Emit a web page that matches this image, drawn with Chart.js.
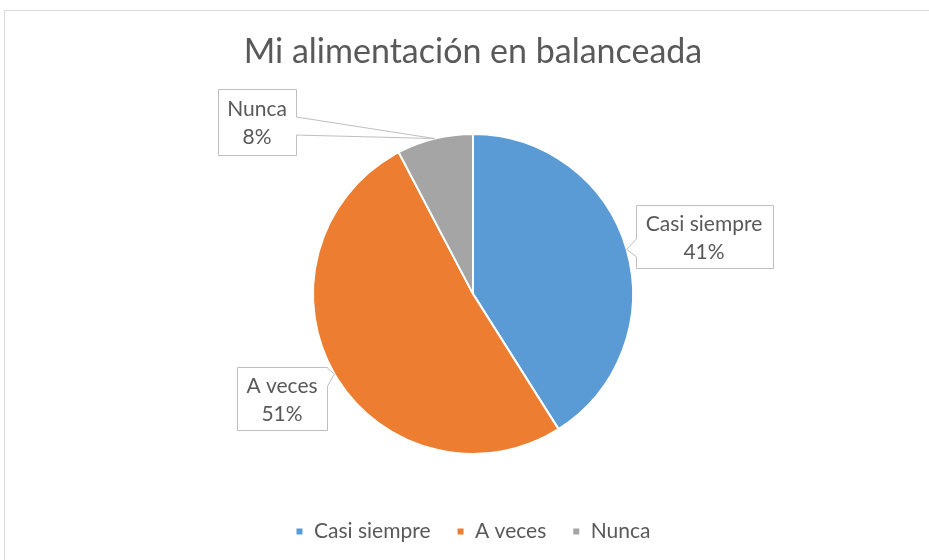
<!DOCTYPE html>
<html lang="es">
  <head>
    <meta charset="UTF-8" />
    <title>Mi alimentación en balanceada</title>
    <script src="https://cdn.jsdelivr.net/npm/chart.js"></script>
    <style>
      body { margin: 0; background: #fff; }
      .canvas { width: 929px; height: 560px; }
    </style>
  </head>
  <body>
    <div class="canvas">
      <canvas id="myChart" width="929" height="560"></canvas>
    </div>
    <script>
      let categories = ["Casi siempre", "A veces", "Nunca"];
      let responses = [16, 20, 3];
      let colors = ["#5B9BD5", "#ED7D31", "#A5A5A5"];
      // where each callout box sits, relative to the pie centre
      let boxOffsets = [
        [231, -57],
        [-191, 105],
        [-216, -172],
      ];
      let boxSizes = [
        [137, 63],
        [90, 63],
        [78, 66],
      ];

      const fontFamily = "Lato, 'Open Sans', sans-serif";

      // light outline around the whole chart
      const frame = {
        id: "frame",
        beforeDraw(chart) {
          const c = chart.ctx;
          c.save();
          c.fillStyle = "#fff";
          c.fillRect(0, 0, chart.width, chart.height);
          c.strokeStyle = "#D9D9D9";
          c.lineWidth = 1;
          c.strokeRect(4.5, 10.5, chart.width + 20, chart.height + 20);
          c.restore();
        },
      };

      function calloutPath(c, x0, y0, w, h, tx, ty) {
        const cx = x0 + w / 2, cy = y0 + h / 2;
        const dx = tx - cx, dy = ty - cy;
        const hw = 9;
        let side, bx, by;
        if (Math.abs(dx) / (w / 2) > Math.abs(dy) / (h / 2)) {
          side = dx > 0 ? "r" : "l";
          by = cy + dy * ((w / 2) / Math.abs(dx));
          by = Math.min(Math.max(by, y0 + hw), y0 + h - hw);
        } else {
          side = dy > 0 ? "b" : "t";
          bx = cx + dx * ((h / 2) / Math.abs(dy));
          bx = Math.min(Math.max(bx, x0 + hw), x0 + w - hw);
        }
        const x1 = x0 + w, y1 = y0 + h;
        c.beginPath();
        c.moveTo(x0, y0);
        if (side === "t") { c.lineTo(bx - hw, y0); c.lineTo(tx, ty); c.lineTo(bx + hw, y0); }
        c.lineTo(x1, y0);
        if (side === "r") { c.lineTo(x1, by - hw); c.lineTo(tx, ty); c.lineTo(x1, by + hw); }
        c.lineTo(x1, y1);
        if (side === "b") { c.lineTo(bx + hw, y1); c.lineTo(tx, ty); c.lineTo(bx - hw, y1); }
        c.lineTo(x0, y1);
        if (side === "l") { c.lineTo(x0, by + hw); c.lineTo(tx, ty); c.lineTo(x0, by - hw); }
        c.closePath();
      }

      const callouts = {
        id: "callouts",
        afterDatasetsDraw(chart) {
          const c = chart.ctx;
          const meta = chart.getDatasetMeta(0);
          const data = chart.data.datasets[0].data;
          const total = data.reduce((a, b) => a + b, 0);
          c.save();
          meta.data.forEach((arc, i) => {
            const p = arc.getProps(["x", "y", "startAngle", "endAngle", "outerRadius"], true);
            const mid = (p.startAngle + p.endAngle) / 2;
            const tx = p.x + Math.cos(mid) * p.outerRadius;
            const ty = p.y + Math.sin(mid) * p.outerRadius;
            const [w, h] = boxSizes[i];
            const bx = p.x + boxOffsets[i][0] - w / 2;
            const by = p.y + boxOffsets[i][1] - h / 2;
            calloutPath(c, Math.round(bx) + 0.5, Math.round(by) + 0.5, w, h, tx, ty);
            c.fillStyle = "#fff";
            c.fill();
            c.strokeStyle = "#BFBFBF";
            c.lineWidth = 1;
            c.stroke();
            c.fillStyle = "#595959";
            c.font = "21px " + fontFamily;
            c.textAlign = "center";
            c.textBaseline = "middle";
            const pct = Math.round((data[i] / total) * 100) + "%";
            c.fillText(chart.data.labels[i], bx + w / 2, by + h / 2 - 13);
            c.fillText(pct, bx + w / 2, by + h / 2 + 15);
          });
          c.restore();
        },
      };

      new Chart(document.getElementById("myChart"), {
        type: "pie",
        data: {
          labels: categories,
          datasets: [
            {
              data: responses,
              backgroundColor: colors,
              borderColor: "#fff",
              borderWidth: 2,
              radius: 160,
            },
          ],
        },
        options: {
          responsive: false,
          animation: false,
          layout: { padding: { left: 17, right: 0, top: 0, bottom: 8 } },
          plugins: {
            title: {
              display: true,
              text: "Mi alimentación en balanceada",
              color: "#595959",
              font: { family: fontFamily, size: 34, weight: "normal" },
              padding: { top: 32, bottom: 20 },
            },
            legend: {
              position: "bottom",
              labels: {
                color: "#595959",
                font: { family: fontFamily, size: 21 },
                boxWidth: 8,
                boxHeight: 8,
                padding: 26,
              },
            },
            tooltip: { enabled: false },
          },
        },
        plugins: [frame, callouts],
      });
    </script>
  </body>
</html>
